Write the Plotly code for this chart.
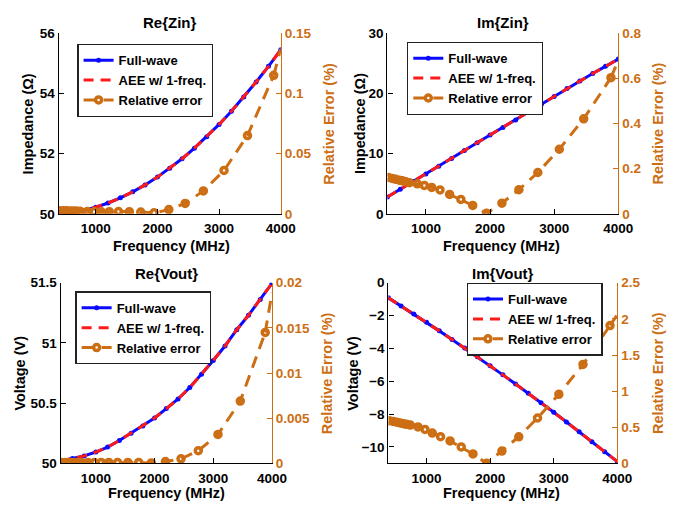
import plotly.graph_objects as go

# ---------------- data ----------------
fw_freq = [400, 600, 800, 1000, 1200, 1400, 1600, 1800, 2000, 2200,
           2400, 2600, 2800, 3000, 3200, 3400, 3600, 3800, 4000]

fw_re_zin = [50.00, 50.04, 50.11, 50.22, 50.36, 50.53, 50.73, 50.96, 51.22, 51.51,
             51.83, 52.18, 52.56, 52.97, 53.41, 53.88, 54.38, 54.90, 55.45]
aee_re_zin = [50.00, 50.04, 50.11, 50.22, 50.36, 50.53, 50.73, 50.96, 51.22, 51.51,
              51.83, 52.18, 52.56, 52.97, 53.41, 53.88, 54.38, 54.90, 55.45]

fw_im_zin = [2.8, 4.07, 5.35, 6.6, 7.9, 9.2, 10.5, 11.8, 13.1, 14.35,
             15.6, 16.9, 18.2, 19.5, 20.8, 22.05, 23.3, 24.5, 25.7]
aee_im_zin = [2.8, 4.07, 5.35, 6.6, 7.9, 9.2, 10.5, 11.8, 13.1, 14.35,
              15.6, 16.9, 18.2, 19.5, 20.8, 22.05, 23.3, 24.5, 25.7]

fw_re_vout = [50.020, 50.040, 50.062, 50.094, 50.135, 50.190, 50.250, 50.310, 50.377, 50.455,
              50.535, 50.630, 50.740, 50.855, 50.975, 51.110, 51.230, 51.360, 51.495]
aee_re_vout = [50.020, 50.040, 50.062, 50.094, 50.135, 50.190, 50.250, 50.310, 50.377, 50.455,
               50.535, 50.630, 50.740, 50.855, 50.975, 51.110, 51.230, 51.360, 51.495]

fw_im_vout = [-0.92, -1.41, -1.91, -2.41, -2.93, -3.45, -3.98, -4.51, -5.06, -5.61,
              -6.17, -6.73, -7.31, -7.89, -8.48, -9.07, -9.68, -10.29, -10.89]
aee_im_vout = [-0.92, -1.41, -1.91, -2.41, -2.93, -3.45, -3.98, -4.51, -5.06, -5.61,
               -6.17, -6.73, -7.31, -7.89, -8.48, -9.07, -9.68, -10.29, -10.89]

err_freq = [415, 475, 530, 585, 635, 685, 745, 865, 975, 1090, 1220,
            1370, 1545, 1730, 1945, 2185, 2450, 2745, 3080, 3460, 3885]
err_end_freq = 4000

err_re_zin = [0.0026, 0.0025, 0.0025, 0.0024, 0.0024, 0.0023, 0.0022, 0.0020, 0.0018, 0.0017, 0.0018,
              0.0019, 0.0018, 0.0015, 0.0008, 0.0035, 0.0086, 0.019, 0.036, 0.065, 0.115]
err_re_zin_end = 0.137

err_im_zin = [0.161, 0.157, 0.153, 0.149, 0.146, 0.142, 0.138, 0.133, 0.126, 0.117, 0.106,
              0.086, 0.064, 0.037, 0.002, 0.047, 0.107, 0.183, 0.286, 0.421, 0.603]
err_im_zin_end = 0.68

err_re_vout = [0.0001, 0.0001, 0.0001, 0.0001, 0.0001, 0.0001, 0.0001, 0.0001, 0.0001, 0.0001, 0.0001,
               0.0001, 0.0001, 0.0001, 0.00005, 0.0002, 0.0005, 0.0014, 0.0032, 0.0069, 0.0145]
err_re_vout_end = 0.0189

err_im_vout = [0.59, 0.58, 0.57, 0.56, 0.55, 0.54, 0.53, 0.505, 0.47, 0.42, 0.37,
               0.31, 0.228, 0.13, 0.0, 0.17, 0.368, 0.628, 0.956, 1.369, 1.908]
err_im_vout_end = 2.06

titles = ["Re{Zin}", "Im{Zin}", "Re{Vout}", "Im{Vout}"]
left_titles = ["Impedance (Ω)", "Impedance (Ω)", "Voltage (V)", "Voltage (V)"]
right_title = "Relative Error (%)"
x_title = "Frequency (MHz)"
legend_names = ["Full-wave", "AEE w/ 1-freq.", "Relative error"]
x_ticks = [1000, 2000, 3000, 4000]

# ---------------- styles ----------------
W, H = 693, 517
BLUE = "#0a0aff"
RED = "#ff1a1a"
ORANGE = "#cc6e14"
FONT = "Liberation Sans, Arial, sans-serif"

# panel pixel boxes: (left, right, top, bottom)
boxes = [(60, 287, 27, 213), (396, 632, 27, 213), (62, 278, 284, 470), (397, 631, 284, 470)]
left_ranges = [[50, 56], [0, 30], [50, 51.5], [-11, 0]]
left_dticks = [2, 10, 0.5, 2]
right_ranges = [[0, 0.15], [0, 0.8], [0, 0.02], [0, 2.5]]
right_dticks = [0.05, 0.2, 0.005, 0.5]
legend_pos = [(79, 38), (416, 36), (77, 293), (477, 284)]
title_pos = [(174, 16), (514, 16), (170, 274), (514, 274)]
xtitle_pos = [(175, 246), (513, 246), (170, 501), (513, 501)]
ltitle_x = [28.5, 367.5, 21, 360.5]
rtitle_x = [335.5, 672.5, 334.5, 672.5]

fw_sets = [fw_re_zin, fw_im_zin, fw_re_vout, fw_im_vout]
aee_sets = [aee_re_zin, aee_im_zin, aee_re_vout, aee_im_vout]
err_sets = [err_re_zin, err_im_zin, err_re_vout, err_im_vout]
err_ends = [err_re_zin_end, err_im_zin_end, err_re_vout_end, err_im_vout_end]

fig = go.Figure()
layout = dict(width=W, height=H, margin=dict(l=0, r=0, t=0, b=0), autosize=False,
              paper_bgcolor="white", plot_bgcolor="white", showlegend=True,
              font=dict(family=FONT, size=14, color="black", weight="bold"))
annotations = []

for i in range(4):
    n = i + 1
    xa = "x" if n == 1 else f"x{n}"
    ya = "y" if n == 1 else f"y{n}"
    ya2 = f"y{n + 4}"
    lg = "legend" if n == 1 else f"legend{n}"
    l, r, t, b = boxes[i]
    xd = [l / W, r / W]
    yd = [1 - b / H, 1 - t / H]

    layout[f"xaxis{'' if n == 1 else n}"] = dict(
        domain=xd, anchor=ya, range=[400, 4000], tickvals=x_ticks,
        showline=True, linecolor="black", linewidth=1.3, mirror=False,
        ticks="inside", ticklen=5, tickwidth=1.2, tickcolor="black",
        showgrid=False, zeroline=False, ticklabelstandoff=2,
        tickfont=dict(family=FONT, size=13.5, color="black", weight="bold"))
    layout[f"yaxis{'' if n == 1 else n}"] = dict(
        domain=yd, anchor=xa, range=left_ranges[i], dtick=left_dticks[i], tick0=0,
        showline=True, linecolor="black", linewidth=1.3,
        ticks="inside", ticklen=5, tickwidth=1.2, tickcolor="black",
        showgrid=False, zeroline=False,
        tickfont=dict(family=FONT, size=13.5, color="black", weight="bold"))
    layout[f"yaxis{n + 4}"] = dict(
        overlaying=ya, anchor=xa, side="right", range=right_ranges[i],
        dtick=right_dticks[i], tick0=0,
        showline=True, linecolor=ORANGE, linewidth=1.3,
        ticks="inside", ticklen=5, tickwidth=1.2, tickcolor=ORANGE,
        showgrid=False, zeroline=False,
        tickfont=dict(family=FONT, size=13.5, color=ORANGE, weight="bold"))

    lx, ly = legend_pos[i]
    layout[lg] = dict(x=lx / W, y=1 - ly / H, xanchor="left", yanchor="top",
                      bgcolor="white", bordercolor="#222", borderwidth=1.3,
                      font=dict(family=FONT, size=13, color="black", weight="bold"),
                      itemwidth=30, tracegroupgap=0)

    fig.add_trace(go.Scatter(x=fw_freq, y=fw_sets[i], mode="lines+markers", name=legend_names[0],
                             line=dict(color=BLUE, width=3), marker=dict(size=5, color=BLUE),
                             xaxis=xa, yaxis=ya, legend=lg))
    fig.add_trace(go.Scatter(x=fw_freq, y=aee_sets[i], mode="lines", name=legend_names[1],
                             line=dict(color=RED, width=3, dash="10px,7px"),
                             xaxis=xa, yaxis=ya, legend=lg))
    fig.add_trace(go.Scatter(x=err_freq, y=err_sets[i], mode="lines+markers", name=legend_names[2],
                             line=dict(color=ORANGE, width=3, dash="12px,8px"),
                             marker=dict(symbol="circle-open", size=6, color=ORANGE,
                                         line=dict(width=3.5, color=ORANGE)),
                             xaxis=xa, yaxis=ya2, legend=lg))
    fig.add_trace(go.Scatter(x=[err_freq[-1], err_end_freq], y=[err_sets[i][-1], err_ends[i]],
                             mode="lines", showlegend=False, hoverinfo="skip",
                             line=dict(color=ORANGE, width=3, dash="12px,8px"),
                             xaxis=xa, yaxis=ya2))

    tx, ty = title_pos[i]
    annotations.append(dict(text=titles[i], x=tx / W, y=1 - ty / H, xref="paper", yref="paper",
                            xanchor="center", yanchor="middle", showarrow=False,
                            font=dict(family=FONT, size=15, color="black", weight="bold")))
    fx, fy = xtitle_pos[i]
    annotations.append(dict(text=x_title, x=fx / W, y=1 - fy / H, xref="paper", yref="paper",
                            xanchor="center", yanchor="middle", showarrow=False,
                            font=dict(family=FONT, size=14.5, color="black", weight="bold")))
    ymid = 1 - ((t + b) / 2) / H
    annotations.append(dict(text=left_titles[i], x=ltitle_x[i] / W, y=ymid, xref="paper", yref="paper",
                            xanchor="center", yanchor="middle", showarrow=False, textangle=-90,
                            font=dict(family=FONT, size=14.5, color="black", weight="bold")))
    annotations.append(dict(text=right_title, x=rtitle_x[i] / W, y=ymid, xref="paper", yref="paper",
                            xanchor="center", yanchor="middle", showarrow=False, textangle=-90,
                            font=dict(family=FONT, size=14.5, color=ORANGE, weight="bold")))

layout["annotations"] = annotations
fig.update_layout(**layout)
fig.write_html("out.html",
               config={"displayModeBar": False},
               post_script="document.documentElement.style.margin='0';"
                           "document.body.style.margin='0';"
                           "document.body.style.overflow='hidden';")
